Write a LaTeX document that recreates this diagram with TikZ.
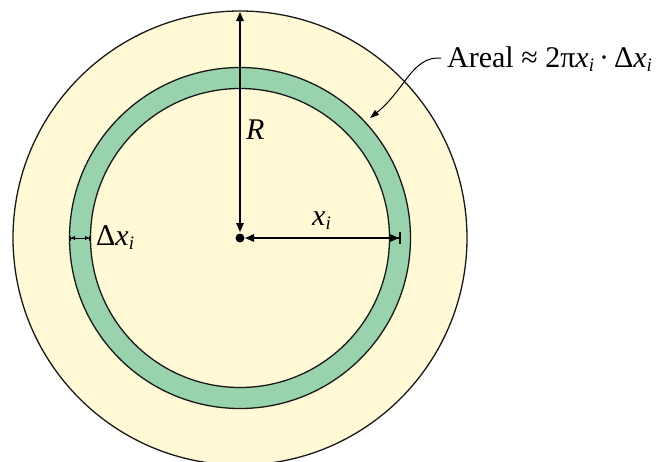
\documentclass[tikz,border=0pt]{standalone}
\usepackage{fontspec}
\setmainfont{Liberation Serif}
\newfontfamily\tnr{Liberation Serif}
\usetikzlibrary{arrows.meta}
\definecolor{cream}{RGB}{255,249,214}
\definecolor{ringgreen}{RGB}{152,211,174}
\newcommand{\subi}{\raisebox{-0.3ex}{\fontsize{19}{22}\selectfont\itshape i}}
\begin{document}
\begin{tikzpicture}[x=1pt,y=-1pt,
  circ/.style={line width=1.3pt,draw=black!90},
  arr/.style={line width=1.2pt,{Triangle[length=9pt,width=7.5pt]}-{Triangle[length=9pt,width=7.5pt]}},
  lbl/.style={font=\tnr\fontsize{30}{34}\selectfont,inner sep=0pt,anchor=base west}]
\useasboundingbox (0,0) rectangle (663,461);
\clip (0,0) rectangle (663,461);
\coordinate (O) at (240,238);
\coordinate (Rtop) at (240,12);
\coordinate (Rbot) at (240,232);
\coordinate (Xl) at (245,238);
\coordinate (Xr) at (401,238);
\coordinate (Dl) at (70,238);
\coordinate (Dr) at (90,238);
\filldraw[circ,fill=cream] (O) circle (227pt);
\fill[ringgreen,even odd rule] (O) circle (170.5pt) (O) circle (149.5pt);
\draw[circ] (O) circle (170.5pt);
\draw[circ] (O) circle (149.5pt);
\draw[arr] (Rbot) -- (Rtop);
\draw[line width=1.2pt,{Triangle[length=9pt,width=7.5pt]}-{Triangle[length=9pt,width=7.5pt] Bar[width=12pt,line width=2pt]}] (Xl) -- (Xr);
\fill (O) circle (4.5pt);
\draw[line width=1pt,{Bar[width=5pt] Triangle[length=4pt,width=4pt]}-{Triangle[length=4pt,width=4pt] Bar[width=5pt]}] (Dl) -- (Dr);
\node[lbl] (R) at (246,139) {\itshape R};
\node[lbl] (xi) at (312,225) {\itshape x\subi};
\node[lbl] (dxi) at (96,245) {Δ\itshape x\subi};
\node[lbl] (areal) at (447,67) {Areal ≈ 2π\textit{x}\subi\,·\,Δ\textit{x}\subi};
\coordinate (Astart) at (441,58);
\coordinate (Atip) at (370,118);
\draw[line width=1pt,-{Triangle[length=9pt,width=6pt]}] (Astart) .. controls (412,56) and (405,90) .. (Atip);
\end{tikzpicture}
\end{document}
